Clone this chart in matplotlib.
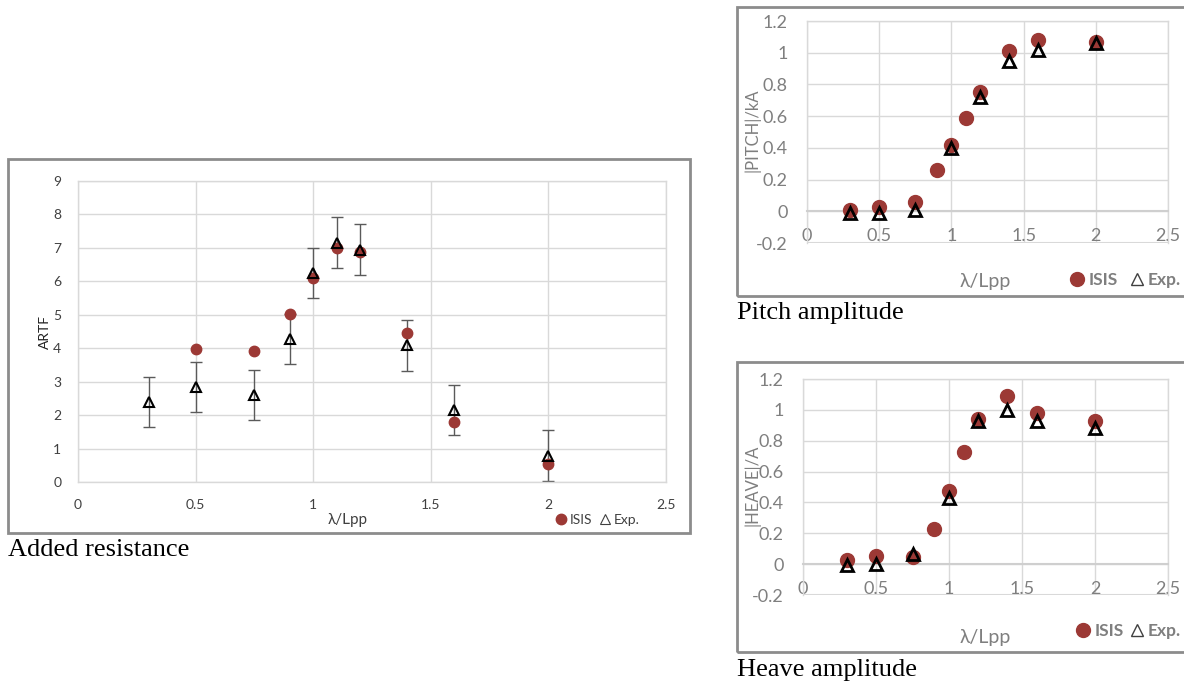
import matplotlib
matplotlib.use('Agg')
import matplotlib.pyplot as plt
from matplotlib.patches import Rectangle
from matplotlib.lines import Line2D

# ---------------- data ----------------
ar_isis_x = [0.5, 0.75, 0.9, 1.0, 1.1, 1.2, 1.4, 1.6, 2.0]
ar_isis_y = [3.98, 3.92, 5.03, 6.10, 7.01, 6.89, 4.46, 1.80, 0.54]
ar_exp_x = [0.3, 0.5, 0.75, 0.9, 1.0, 1.1, 1.2, 1.4, 1.6, 2.0]
ar_exp_y = [2.39, 2.85, 2.59, 4.28, 6.26, 7.16, 6.95, 4.09, 2.15, 0.78]
ar_exp_err = [0.75, 0.75, 0.75, 0.75, 0.75, 0.76, 0.77, 0.76, 0.74, 0.76]

pitch_isis_x = [0.3, 0.5, 0.75, 0.9, 1.0, 1.1, 1.2, 1.4, 1.6, 2.0]
pitch_isis_y = [0.006, 0.027, 0.057, 0.26, 0.42, 0.59, 0.75, 1.01, 1.08, 1.07]
pitch_exp_x = [0.3, 0.5, 0.75, 1.0, 1.2, 1.4, 1.6, 2.0]
pitch_exp_y = [-0.008, -0.008, 0.006, 0.40, 0.72, 0.95, 1.02, 1.06]

heave_isis_x = [0.3, 0.5, 0.75, 0.9, 1.0, 1.1, 1.2, 1.4, 1.6, 2.0]
heave_isis_y = [0.026, 0.052, 0.048, 0.227, 0.476, 0.73, 0.94, 1.09, 0.98, 0.93]
heave_exp_x = [0.3, 0.5, 0.75, 1.0, 1.2, 1.4, 1.6, 2.0]
heave_exp_y = [-0.006, 0.004, 0.065, 0.43, 0.93, 1.0, 0.93, 0.885]

x_ticks = [0, 0.5, 1, 1.5, 2, 2.5]
x_ticklabels = ['0', '0.5', '1', '1.5', '2', '2.5']
ar_y_ticks = [0, 1, 2, 3, 4, 5, 6, 7, 8, 9]
amp_y_ticks = [-0.2, 0, 0.2, 0.4, 0.6, 0.8, 1.0, 1.2]
amp_y_ticklabels = ['-0.2', '0', '0.2', '0.4', '0.6', '0.8', '1', '1.2']

xlabel = 'λ/Lpp'
captions = ['Added resistance', 'Pitch amplitude', 'Heave amplitude']

# ---------------- style ----------------
RED = '#9c3935'
GRID = '#d9d9d9'
SANS = ['Lato', 'DejaVu Sans']
SERIF = ['Liberation Serif', 'DejaVu Serif']
W, H = 1184, 686

fig = plt.figure(figsize=(W / 100, H / 100), dpi=100)
fig.patch.set_facecolor('white')


def fx(px):
    return px / W


def fy(py):
    return 1 - py / H


def box(x0, y0, x1, y1):
    fig.patches.append(Rectangle((fx(x0), fy(y1)), fx(x1) - fx(x0), fy(y0) - fy(y1),
                                 transform=fig.transFigure, fill=False,
                                 edgecolor='#8c8c8c', linewidth=2, clip_on=False))


def axes_px(x0, y0, x1, y1):
    return fig.add_axes([fx(x0), fy(y1), fx(x1) - fx(x0), fy(y0) - fy(y1)])


# ---------------- Added resistance ----------------
box(8, 159, 690, 533)
ax = axes_px(78, 181, 666, 482)
ax.set_xlim(0, 2.5)
ax.set_ylim(0, 9)
ax.set_xticks(x_ticks)
ax.set_xticklabels(x_ticklabels)
ax.set_yticks(ar_y_ticks)
ax.grid(True, color=GRID, linewidth=1)
ax.set_axisbelow(True)
for s in ax.spines.values():
    s.set_color(GRID)
    s.set_linewidth(1)
ax.tick_params(length=0, labelsize=10, colors='#404040', labelfontfamily=SANS)
ax.tick_params(axis='x', pad=12)
ax.tick_params(axis='y', pad=12)
ax.errorbar(ar_exp_x, ar_exp_y, yerr=ar_exp_err, fmt='none', ecolor='#5a5a5a',
            elinewidth=1, capsize=4, capthick=1, zorder=2)
ax.plot(ar_isis_x, ar_isis_y, 'o', color=RED, markersize=7.5, zorder=3)
ax.plot(ar_exp_x, ar_exp_y, '^', markerfacecolor='none', markeredgecolor='black',
        markeredgewidth=1.5, markersize=7, zorder=4)
fig.text(fx(348), fy(520), xlabel, ha='center', va='center', fontsize=11,
         color='#404040', family=SANS)
fig.text(fx(45), fy(332), 'ARTF', ha='center', va='center', rotation=90,
         fontsize=10, color='#202020', family=SANS)
h1 = [Line2D([], [], marker='o', ls='none', color=RED, markersize=7.5),
      Line2D([], [], marker='^', ls='none', markerfacecolor='none',
             markeredgecolor='#404040', markeredgewidth=0.8, markersize=7)]
fig.legend(h1, ['ISIS', 'Exp.'], loc='center right', bbox_to_anchor=(fx(640), fy(520)),
           ncol=2, frameon=False, handletextpad=0.05, columnspacing=0.3,
           handlelength=1.2, borderpad=0, borderaxespad=0,
           prop={'family': SANS, 'size': 10}, labelcolor='#404040')
fig.text(fx(8), fy(550), captions[0], ha='left', va='center', fontsize=19,
         family=SERIF, color='black')


# ---------------- amplitude panels ----------------
def amp_panel(bx, ax_rect, ylab, ylab_pos, xl_pos, leg_pos, cap_pos,
              ix, iy, ex, ey, caption, colsp):
    box(*bx)
    a = axes_px(*ax_rect)
    a.set_xlim(0, 2.5)
    a.set_ylim(-0.2, 1.2)
    a.set_xticks(x_ticks)
    a.set_xticklabels(x_ticklabels)
    a.set_yticks(amp_y_ticks)
    a.set_yticklabels(amp_y_ticklabels)
    a.grid(True, color=GRID, linewidth=1)
    a.set_axisbelow(True)
    for s in a.spines.values():
        s.set_color(GRID)
        s.set_linewidth(1)
    a.spines['bottom'].set_position(('data', 0))
    a.spines['bottom'].set_color('#cfcfcf')
    a.spines['bottom'].set_linewidth(1.5)
    a.axhline(-0.2, color=GRID, linewidth=1.5, zorder=0)
    a.tick_params(length=0, labelsize=13, colors='#7f7f7f', labelfontfamily=SANS)
    a.tick_params(axis='x', pad=12)
    a.tick_params(axis='y', pad=14)
    a.plot(ix, iy, 'o', color=RED, markersize=10, zorder=3, clip_on=False)
    a.plot(ex, ey, '^', markerfacecolor='none', markeredgecolor='black',
           markeredgewidth=2, markersize=8.5, zorder=4, clip_on=False)
    fig.text(fx(ylab_pos[0]), fy(ylab_pos[1]), ylab, ha='center', va='center',
             rotation=90, fontsize=12, color='#7f7f7f', family=SANS)
    fig.text(fx(xl_pos[0]), fy(xl_pos[1]), xlabel, ha='center', va='center',
             fontsize=14, color='#7f7f7f', family=SANS)
    hh = [Line2D([], [], marker='o', ls='none', color=RED, markersize=10),
          Line2D([], [], marker='^', ls='none', markerfacecolor='none',
                 markeredgecolor='#404040', markeredgewidth=1, markersize=9)]
    fig.legend(hh, ['ISIS', 'Exp.'], loc='center right',
               bbox_to_anchor=(fx(leg_pos[0]), fy(leg_pos[1])),
               ncol=2, frameon=False, handletextpad=0.05, columnspacing=colsp,
               handlelength=1.2, borderpad=0, borderaxespad=0,
               prop={'family': SANS, 'size': 12.5, 'weight': 'bold'},
               labelcolor='#7f7f7f')
    fig.text(fx(cap_pos[0]), fy(cap_pos[1]), caption, ha='left', va='center',
             fontsize=19, family=SERIF, color='black')


amp_panel((737, 7, 1192, 296), (807, 21, 1168, 243), '|PITCH|/kA', (752, 130),
          (985, 282), (1181, 280), (737, 313),
          pitch_isis_x, pitch_isis_y, pitch_exp_x, pitch_exp_y, captions[1], 0.5)
amp_panel((737, 362, 1192, 652), (803, 379, 1168, 595), '|HEAVE|/A', (752, 485),
          (985, 637), (1181, 631), (737, 670),
          heave_isis_x, heave_isis_y, heave_exp_x, heave_exp_y, captions[2], 0.15)

fig.savefig('out.png', dpi=100, facecolor='white')
